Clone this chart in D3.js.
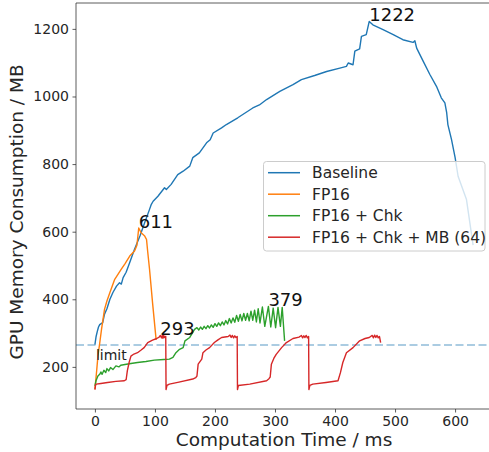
<!DOCTYPE html>
<html>
<head>
<meta charset="utf-8">
<script src="https://cdn.jsdelivr.net/npm/d3@7.9.0/dist/d3.min.js"></script>
<style>
  body { margin: 0; background: #fff; }
  svg { font-family: "DejaVu Sans", sans-serif; }
</style>
</head>
<body>
<svg id="chart" width="489" height="452"></svg>
<script>
// Series values, [time (ms), memory (MB)]
const baseline = [
  [0, 266], [2, 290], [4, 305], [6, 318], [8, 325], [13, 331], [16, 356], [20, 372],
  [25, 400], [30, 420], [36, 439], [41, 449], [44, 445], [47, 464], [52, 480], [58, 509],
  [66, 548], [75, 587], [83, 627], [91, 666], [94, 681], [97, 690], [105, 705], [116, 730],
  [119, 725], [127, 740], [138, 769], [147, 779], [158, 794], [163, 819], [174, 833],
  [186, 863], [192, 872], [197, 892], [211, 907], [219, 917], [238, 937], [263, 966],
  [274, 975], [286, 991], [308, 1015], [330, 1035], [344, 1050], [366, 1062], [386, 1074],
  [408, 1084], [419, 1089], [422, 1099], [430, 1094], [433, 1134], [441, 1141], [444, 1178],
  [452, 1183], [457, 1222], [463, 1212], [480, 1198], [497, 1183], [513, 1168], [530, 1160],
  [533, 1165], [536, 1143], [547, 1104], [558, 1065], [569, 1030], [577, 996], [583, 981],
  [586, 952], [588, 917], [594, 873], [600, 820], [605, 764], [619, 695], [630, 560]
];
const fp16 = [
  [0, 134], [3, 190], [5, 232], [8, 270], [11, 311], [16, 370], [20, 395], [25, 420],
  [33, 459], [44, 489], [50, 505], [58, 528], [66, 543], [70, 560], [73, 611], [77, 597],
  [83, 587], [86, 577], [88, 540], [91, 489], [96, 390], [102, 280]
];
const fp16Chk = [
  [0, 144], [2, 160], [5, 173], [8, 178], [10, 185], [12, 178], [15, 190], [18, 183],
  [20, 195], [23, 188], [26, 198], [30, 192], [35, 203], [40, 200], [43, 205], [50, 207],
  [60, 210], [71, 213], [85, 216], [99, 220], [115, 222], [124, 223], [130, 228], [135, 242],
  [141, 252], [147, 257], [150, 277], [158, 287], [163, 302], [166, 311], [170, 316],
  [173, 309], [176, 318], [179, 311], [182, 320], [185, 313], [188, 322], [191, 315],
  [194, 324], [197, 317], [200, 328], [203, 320], [206, 330], [209, 322], [212, 333],
  [215, 324], [218, 337], [221, 327], [224, 343], [227, 330], [230, 345], [233, 332],
  [236, 352], [239, 335], [242, 355], [245, 336], [248, 358], [251, 338], [254, 358],
  [257, 336], [260, 365], [263, 338], [266, 368], [269, 333], [272, 372], [275, 330],
  [279, 377], [283, 320], [289, 379], [293, 318], [297, 374], [301, 316], [305, 376],
  [309, 320], [312, 376], [316, 277]
];
const fp16ChkMb = [
  [0, 133], [1, 145], [2, 149], [10, 151], [21, 154], [35, 157], [49, 159], [52, 162],
  [54, 188], [57, 213], [60, 232], [65, 238], [71, 242], [77, 250], [82, 257], [88, 272],
  [96, 279], [103, 284], [107, 288], [109, 293], [111, 286], [112, 292], [113, 285],
  [114, 293], [115, 286], [116, 291], [117, 287], [118, 290], [118.5, 133],
  [120, 145], [124, 149], [140, 155], [163, 164], [168, 168], [170, 173], [172, 208],
  [178, 223], [180, 242], [185, 250], [191, 257], [199, 272], [205, 280], [211, 287],
  [222, 290], [225, 294], [227, 287], [229, 293], [231, 286], [233, 292], [235, 287],
  [237, 290], [237.5, 133],
  [239, 145], [258, 149], [286, 159], [290, 165], [292, 170], [294, 208], [298, 225],
  [302, 237], [311, 257], [319, 272], [330, 284], [340, 288], [344, 293], [346, 286],
  [348, 292], [350, 287], [352, 293], [354, 286], [356, 290], [356.5, 133],
  [358, 145], [363, 149], [385, 154], [405, 159], [409, 183], [413, 213], [419, 242],
  [430, 257], [441, 277], [450, 284], [457, 287], [462, 293], [464, 286], [466, 294],
  [468, 287], [470, 293], [472, 286], [474, 290], [476, 272]
];

const seriesNames = ["Baseline", "FP16", "FP16 + Chk", "FP16 + Chk + MB (64)"];
const seriesColors = ["#1f77b4", "#ff7f0e", "#2ca02c", "#d62728"];
const peakLabels = [
  [457, 1222, "1222"], [73, 611, "611"], [109, 293, "293"], [289, 379, "379"]
];
const limitValue = 265;
const xTicks = [0, 100, 200, 300, 400, 500, 600];
const yTicks = [200, 400, 600, 800, 1000, 1200];

const svg = d3.select("#chart");
const plotLeft = 76, plotRight = 492, plotTop = 3, plotBottom = 409;

const x = d3.scaleLinear().domain([-31.5, 661.5]).range([plotLeft, plotRight]);
const y = d3.scaleLinear().domain([75.4, 1276.6]).range([plotBottom, plotTop]);

const plot = svg.append("g");

// limit line
plot.append("line")
  .attr("x1", plotLeft).attr("x2", plotRight)
  .attr("y1", y(limitValue)).attr("y2", y(limitValue))
  .attr("stroke", "#1f77b4").attr("stroke-opacity", 0.5)
  .attr("stroke-width", 1.5).attr("stroke-dasharray", "8,3.5");

const line = d3.line().x(d => x(d[0])).y(d => y(d[1]));
[baseline, fp16, fp16Chk, fp16ChkMb].forEach((data, i) => {
  plot.append("path")
    .attr("d", line(data))
    .attr("fill", "none")
    .attr("stroke", seriesColors[i])
    .attr("stroke-width", 1.4)
    .attr("stroke-linejoin", "round");
});

plot.append("text")
  .attr("x", x(0) + 1).attr("y", 360)
  .attr("font-size", 14).attr("fill", "#222")
  .text("limit");

peakLabels.forEach(p => {
  plot.append("text")
    .attr("x", x(p[0])).attr("y", y(p[1]))
    .attr("font-size", 18).attr("fill", "#111")
    .text(p[2]);
});

// axes
const fmt = d3.format("d");
const xAxis = svg.append("g").attr("transform", `translate(0,${plotBottom})`)
  .call(d3.axisBottom(x).tickValues(xTicks).tickFormat(fmt).tickSize(3.5).tickPadding(3.5));
const yAxis = svg.append("g").attr("transform", `translate(${plotLeft},0)`)
  .call(d3.axisLeft(y).tickValues(yTicks).tickFormat(fmt).tickSize(3.5).tickPadding(3.5));
[xAxis, yAxis].forEach(g => {
  g.select(".domain").remove();
  g.selectAll("line").attr("stroke", "#333").attr("stroke-width", 0.8);
  g.selectAll("text").attr("font-size", 14).attr("fill", "#262626")
    .attr("font-family", "DejaVu Sans");
});

// spines: left, bottom, top
svg.append("path")
  .attr("d", `M${plotRight + 5},${plotTop}H${plotLeft}V${plotBottom}H${plotRight + 5}`)
  .attr("fill", "none").attr("stroke", "#333").attr("stroke-width", 0.8);

svg.append("text")
  .attr("x", (plotLeft + plotRight) / 2).attr("y", 446)
  .attr("text-anchor", "middle").attr("font-size", 18.5).attr("fill", "#262626")
  .text("Computation Time / ms");
svg.append("text")
  .attr("transform", `translate(23,212) rotate(-90)`)
  .attr("text-anchor", "middle").attr("font-size", 18.5).attr("fill", "#262626")
  .text("GPU Memory Consumption / MB");

// legend
const legend = svg.append("g");
legend.append("rect")
  .attr("x", 263.5).attr("y", 161.5).attr("width", 221.5).attr("height", 89.5)
  .attr("rx", 3).attr("fill", "#fff").attr("fill-opacity", 0.8)
  .attr("stroke", "#ccc").attr("stroke-width", 1);
seriesNames.forEach((name, i) => {
  const cy = 172.7 + i * 21.5;
  legend.append("line")
    .attr("x1", 268).attr("x2", 300).attr("y1", cy).attr("y2", cy)
    .attr("stroke", seriesColors[i]).attr("stroke-width", 1.5);
  legend.append("text")
    .attr("x", 312).attr("y", cy).attr("dy", "0.36em")
    .attr("font-size", 15.5).attr("fill", "#262626")
    .text(name);
});
</script>
</body>
</html>
